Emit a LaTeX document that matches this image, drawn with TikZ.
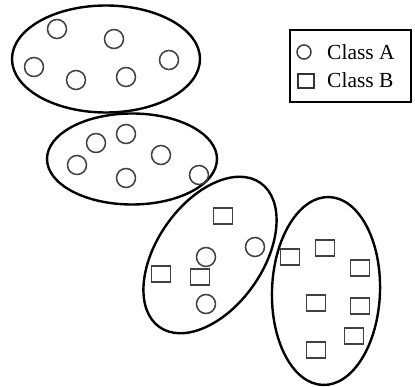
\documentclass[tikz,border=0pt]{standalone}
\usepackage{fontspec}
\setmainfont{Liberation Serif}
\usetikzlibrary{shapes.geometric}
\begin{document}
\begin{tikzpicture}[x=1pt,y=-1pt,
  cluster/.style={draw=black,ellipse,line width=2.4pt,inner sep=0pt,outer sep=0pt},
  pa/.style={draw=black!75,circle,line width=1.5pt,minimum size=19pt,inner sep=0pt},
  pb/.style={draw=black!75,rectangle,line width=1.7pt,minimum width=19pt,minimum height=16pt,inner sep=0pt},
  la/.style={draw=black!80,circle,line width=1.4pt,minimum size=14pt,inner sep=0pt},
  lb/.style={draw=black!80,rectangle,line width=1.4pt,minimum width=16pt,minimum height=14pt,inner sep=0pt},
  lab/.style={anchor=base west,inner sep=0pt,font=\fontsize{21.5}{25}\selectfont}]
\useasboundingbox (0,0) rectangle (415,387);
% clusters
\node[cluster,minimum width=188pt,minimum height=107pt] (e1) at (106,59) {};
\node[cluster,minimum width=170pt,minimum height=91pt] (e2) at (132,159) {};
\node[cluster,minimum width=176pt,minimum height=106pt,rotate=55] (e3) at (210,255) {};
\node[cluster,minimum width=108pt,minimum height=188pt,rotate=-2] (e4) at (326,291) {};
% class A in cluster 1
\node[pa] (a1) at (57,29) {};
\node[pa] (a2) at (114,39) {};
\node[pa] (a3) at (34,67) {};
\node[pa] (a4) at (76,80) {};
\node[pa] (a5) at (126,77) {};
\node[pa] (a6) at (169,60) {};
% class A in cluster 2
\node[pa] (a7) at (96,143) {};
\node[pa] (a8) at (126,134) {};
\node[pa] (a9) at (77,165) {};
\node[pa] (a10) at (161,155) {};
\node[pa] (a11) at (126,178) {};
\node[pa] (a12) at (199,175) {};
% cluster 3
\node[pb] (b1) at (223,216) {};
\node[pb] (b2) at (161,274) {};
\node[pa] (a13) at (255,247) {};
\node[pa] (a14) at (206,257) {};
\node[pb] (b3) at (200,277) {};
\node[pa] (a15) at (206,304) {};
% cluster 4
\node[pb] (b4) at (290,257) {};
\node[pb] (b5) at (325,248) {};
\node[pb] (b6) at (360,268) {};
\node[pb] (b7) at (316,303) {};
\node[pb] (b8) at (360,306) {};
\node[pb] (b9) at (354,336) {};
\node[pb] (b10) at (316,350) {};
% legend
\draw[line width=1.3pt] (290,30) rectangle (411,102);
\node[la] (lga) at (304,52) {};
\node[lab] (lta) at (327,60) {Class A};
\node[lb] (lgb) at (306,81) {};
\node[lab] (ltb) at (327,88) {Class B};
\end{tikzpicture}
\end{document}
